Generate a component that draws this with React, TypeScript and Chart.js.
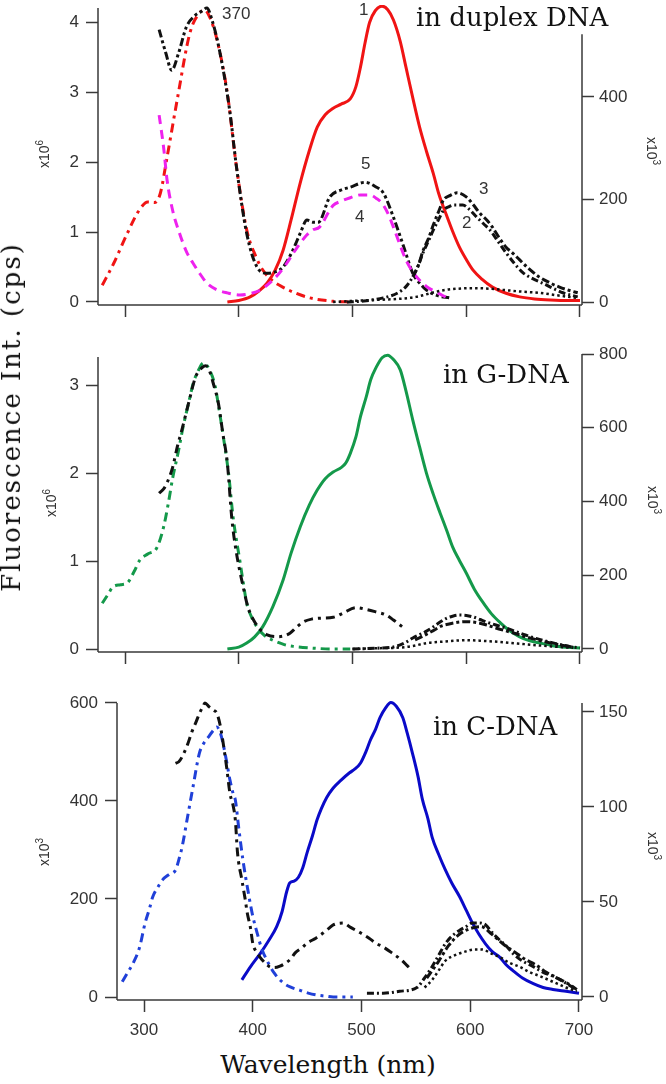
import React, { useEffect, useRef } from "react";
import { Chart, registerables } from "chart.js";

Chart.register(...registerables);

// ---------------- DATA ----------------
// tick values
const xTicks = [300, 400, 500, 600, 700];
const dupLeftTicks = [0, 1, 2, 3, 4];
const dupRightTicks = [0, 200, 400];
const gLeftTicks = [0, 1, 2, 3];
const gRightTicks = [0, 200, 400, 600, 800];
const cLeftTicks = [0, 200, 400, 600];
const cRightTicks = [0, 50, 100, 150];

// Panel 1: in duplex DNA
const dupRedExWl = [280, 290, 302, 312, 320, 326, 331, 337, 346, 357, 365, 370, 375, 381, 390, 398, 407, 415, 421, 430, 439, 460, 483, 500];
const dupRedExVal = [0.24, 0.55, 0.98, 1.3, 1.43, 1.42, 1.55, 2.07, 2.9, 3.84, 4.12, 4.17, 4.05, 3.74, 2.98, 1.93, 1.03, 0.65, 0.46, 0.3, 0.21, 0.07, 0.01, 0.0];

const dupBlack5Wl = [330, 336, 341, 347, 354, 362, 367, 372, 377, 383, 392, 398, 407, 416, 425, 432, 439, 447, 454, 460, 465, 470, 480, 490, 498, 511, 520, 527, 536, 545, 553, 560, 565, 575, 585];
const dupBlack5Val = [3.89, 3.55, 3.31, 3.55, 3.93, 4.1, 4.15, 4.2, 4.0, 3.6, 2.74, 1.93, 0.98, 0.5, 0.41, 0.43, 0.5, 0.72, 0.98, 1.17, 1.14, 1.14, 1.5, 1.6, 1.64, 1.71, 1.65, 1.56, 1.21, 0.79, 0.41, 0.25, 0.17, 0.09, 0.06];

const dupMag4Wl = [330, 334, 337, 342, 348, 354, 360, 366, 372, 380, 390, 401, 410, 419, 427, 435, 442, 448, 454, 460, 465, 471, 480, 483, 490, 498, 507, 515, 521, 526, 531, 536, 541, 547, 553, 559, 567, 575, 582];
const dupMag4Val = [2.67, 2.2, 1.74, 1.3, 0.98, 0.72, 0.55, 0.4, 0.27, 0.18, 0.13, 0.1, 0.12, 0.17, 0.27, 0.4, 0.55, 0.7, 0.84, 0.96, 1.03, 1.07, 1.31, 1.38, 1.44, 1.49, 1.53, 1.53, 1.48, 1.41, 1.27, 1.07, 0.85, 0.6, 0.43, 0.31, 0.2, 0.13, 0.07];

const dupRed1Wl = [390, 400, 410, 418, 425, 432, 439, 446, 454, 462, 469, 476, 483, 490, 498, 503, 507, 511, 515, 520, 526, 531, 536, 542, 547, 553, 559, 565, 571, 576, 582, 588, 594, 600, 606, 614, 623, 635, 647, 660, 674, 690, 700];
const dupRed1Val = [0, 3, 10, 22, 37, 62, 101, 160, 232, 295, 341, 365, 378, 386, 396, 420, 458, 505, 545, 568, 577, 570, 550, 508, 458, 398, 341, 294, 251, 210, 173, 138, 107, 83, 62, 44, 29, 17, 10, 6, 4, 3, 3];

const dupBlack2Wl = [495, 510, 527, 540, 547, 553, 558, 562, 567, 571, 576, 580, 585, 589, 597, 603, 609, 615, 621, 628, 635, 642, 650, 658, 667, 676, 685, 698];
const dupBlack2Val = [0, 2, 8, 18, 30, 49, 72, 96, 120, 140, 162, 179, 186, 189, 189, 180, 166, 153, 140, 118, 96, 76, 57, 46, 37, 27, 18, 10];

const dupBlack3Wl = [553, 558, 562, 567, 571, 576, 580, 586, 592, 600, 606, 612, 618, 623, 629, 635, 641, 647, 655, 664, 673, 682, 690, 698];
const dupBlack3Val = [49, 72, 100, 125, 150, 178, 199, 208, 213, 205, 190, 173, 160, 146, 125, 107, 95, 82, 65, 49, 38, 29, 23, 18];

const dupDotWl = [483, 500, 520, 540, 556, 570, 580, 593, 606, 620, 635, 650, 664, 680, 697];
const dupDotVal = [0, 2, 4, 6, 10, 18, 23, 26, 27, 26, 23, 20, 18, 13, 8];

// Panel 2: in G-DNA
const gGreenExWl = [280, 285, 289, 296, 302, 308, 313, 320, 328, 334, 338, 342, 347, 351, 356, 360, 365, 369, 374, 379, 383, 386, 391, 395, 401, 404, 407, 411, 416, 423, 430, 440, 448, 465, 483, 498];
const gGreenExVal = [0.52, 0.62, 0.7, 0.73, 0.75, 0.88, 1.01, 1.08, 1.15, 1.39, 1.65, 1.95, 2.25, 2.52, 2.8, 3.02, 3.18, 3.25, 3.18, 3.0, 2.7, 2.45, 2.0, 1.5, 1.0, 0.75, 0.52, 0.37, 0.25, 0.15, 0.1, 0.05, 0.03, 0.01, 0.0, 0.0];

const gBlackExWl = [330, 334, 337, 342, 346, 350, 356, 362, 368, 371, 374, 378, 382, 386, 390, 394, 398, 404, 408, 413, 419, 425, 434, 440, 445, 451, 457, 464, 471, 483, 492, 503, 512, 521, 529, 536, 542, 545];
const gBlackExVal = [1.77, 1.82, 1.89, 2.07, 2.3, 2.49, 2.8, 3.09, 3.2, 3.22, 3.17, 3.0, 2.8, 2.45, 2.11, 1.47, 1.09, 0.7, 0.48, 0.33, 0.22, 0.16, 0.14, 0.15, 0.18, 0.25, 0.31, 0.34, 0.35, 0.36, 0.41, 0.47, 0.45, 0.42, 0.39, 0.33, 0.27, 0.24];

const gGreenEmWl = [390, 400, 407, 414, 421, 430, 439, 446, 454, 462, 469, 476, 483, 490, 494, 498, 503, 507, 512, 516, 521, 526, 531, 536, 542, 547, 553, 559, 565, 571, 577, 583, 588, 594, 600, 607, 615, 622, 630, 638, 647, 656, 665, 676, 688, 700];
const gGreenEmVal = [0, 5, 16, 33, 60, 115, 187, 260, 331, 390, 431, 462, 480, 492, 504, 530, 575, 630, 683, 730, 765, 790, 797, 785, 757, 700, 621, 548, 477, 420, 369, 320, 277, 240, 206, 163, 125, 96, 71, 50, 33, 22, 16, 9, 5, 3];

const gBlackDashWl = [500, 520, 535, 542, 548, 553, 558, 562, 567, 571, 577, 583, 588, 594, 600, 606, 612, 618, 626, 635, 643, 652, 662, 673, 684, 694, 700];
const gBlackDashVal = [0, 2, 5, 11, 20, 30, 38, 43, 52, 60, 73, 84, 89, 92, 91, 87, 80, 73, 65, 57, 48, 38, 28, 19, 11, 5, 3];

const gBlackDashDotWl = [555, 562, 571, 578, 585, 594, 600, 606, 612, 618, 626, 635, 643, 652, 662, 673, 684, 694];
const gBlackDashDotVal = [25, 35, 50, 62, 68, 73, 74, 73, 70, 65, 57, 49, 42, 33, 25, 17, 10, 5];

const gDotWl = [500, 520, 542, 553, 565, 580, 600, 615, 630, 645, 659, 675, 694];
const gDotVal = [0, 2, 4, 8, 16, 20, 24, 22, 19, 15, 11, 7, 3];

// Panel 3: in C-DNA
const cBlueExWl = [280, 285, 290, 296, 301, 305, 308, 313, 317, 323, 329, 332, 335, 340, 345, 351, 355, 359, 363, 367, 370, 372, 376, 379, 382, 384, 387, 391, 396, 400, 404, 408, 413, 420, 428, 435, 443, 451, 459, 466, 474, 492];
const cBlueExVal = [31, 50, 69, 102, 151, 180, 204, 225, 239, 250, 259, 280, 306, 367, 428, 498, 518, 530, 542, 551, 540, 524, 480, 443, 415, 402, 347, 279, 212, 165, 131, 100, 75, 48, 29, 20, 14, 8, 4, 2, 0, 0];

const cBlackExWl = [329, 332, 335, 340, 344, 348, 351, 354, 356, 360, 364, 367, 370, 372, 374, 376, 379, 382, 384, 386, 390, 393, 395, 398, 400, 404, 409, 413, 416, 420, 425, 430, 435, 439, 445, 450, 458, 465, 470, 474, 483, 490, 499, 507, 513, 520, 528, 537, 542, 546];
const cBlackExVal = [477, 480, 490, 515, 541, 562, 579, 592, 600, 592, 585, 579, 555, 530, 500, 469, 416, 390, 361, 294, 239, 200, 171, 140, 110, 90, 75, 66, 61, 60, 63, 69, 78, 90, 100, 110, 120, 131, 140, 147, 151, 142, 131, 120, 110, 102, 90, 75, 64, 55];

const cBlueEmWl = [390, 398, 407, 415, 422, 427, 431, 434, 438, 442, 446, 450, 455, 459, 463, 468, 474, 481, 489, 494, 499, 504, 508, 513, 517, 522, 527, 532, 538, 542, 547, 552, 556, 561, 565, 571, 577, 583, 590, 596, 602, 608, 614, 620, 627, 633, 639, 648, 658, 667, 676, 688, 700];
const cBlueEmVal = [9, 16, 23, 30, 37, 45, 55, 60, 61, 63, 68, 76, 85, 93, 99, 105, 110, 114, 118, 120, 123, 129, 135, 141, 147, 152, 155, 153, 147, 139, 128, 116, 104, 94, 84, 75, 67, 60, 53, 46, 39, 33, 28, 24, 21, 17, 14, 10, 7, 5, 4, 3, 2];

const cBlackDashWl = [505, 520, 535, 551, 558, 565, 571, 577, 583, 590, 596, 602, 608, 614, 620, 627, 633, 639, 648, 658, 667, 676, 686, 697];
const cBlackDashVal = [2, 2, 3, 5, 10, 16, 22, 28, 32, 35, 37, 39, 39, 38, 34, 30, 27, 23, 19, 16, 13, 11, 8, 4];

const cBlackDashDotWl = [560, 570, 580, 590, 600, 610, 620, 630, 640, 650, 660, 670, 680, 690, 698];
const cBlackDashDotVal = [10, 18, 27, 33, 36, 37, 33, 28, 24, 20, 17, 13, 10, 7, 4];

const cDotWl = [558, 565, 571, 577, 586, 596, 604, 611, 619, 627, 636, 645, 655, 664, 676, 688, 698];
const cDotVal = [5, 9, 14, 19, 22, 24, 25, 25, 23, 21, 18, 16, 13, 11, 8, 5, 3];

// ---------------- STYLE ----------------
const AXIS = "#3a3a3a";
const TICK_TEXT = "#333333";
const SANS = '"Liberation Sans", Arial, sans-serif';
const SERIF = '"DejaVu Serif", serif';

const RED = "#f01414";
const MAGENTA = "#ee22ee";
const BLACK = "#111111";
const GREEN = "#14994a";
const BLUE = "#0a0ac8";
const BLUE_EX = "#2040d8";

type DS = {
  wl: number[];
  val: number[];
  color: string;
  dash: number[];
  width: number;
  axis: "y" | "y2";
};

function makeDataset(d: DS) {
  return {
    data: d.wl.map((w, i) => ({ x: w, y: d.val[i] })),
    borderColor: d.color,
    borderDash: d.dash,
    borderWidth: d.width,
    pointRadius: 0,
    fill: false,
    cubicInterpolationMode: "monotone" as const,
    yAxisID: d.axis,
    borderCapStyle: "butt" as const,
  };
}

const DASHDOT = [9, 5, 3, 5];
const DASHDOTDOT = [8, 3, 3, 3, 3, 3];
const DASH = [9, 6];
const DOT = [2.5, 3];

type PanelSpec = {
  top: number;
  height: number;
  padTop: number;
  xMin: number;
  xMax: number;
  xScaleH: number;
  showX: boolean;
  leftW: number;
  rightW: number;
  yMin: number;
  yMax: number;
  yTicks: number[];
  y2Min: number;
  y2Max: number;
  y2Ticks: number[];
  leftTop: number;
  rightTop: number;
  sets: DS[];
};

const panels: PanelSpec[] = [
  {
    top: 0, height: 320, padTop: 5,
    xMin: 276.26, xMax: 701.76, xScaleH: 15, showX: false,
    leftW: 98, rightW: 84,
    yMin: -0.0429, yMax: 4.243, yTicks: dupLeftTicks,
    y2Min: -5.85, y2Max: 579.2, y2Ticks: dupRightTicks,
    leftTop: 4.2, rightTop: 522,
    sets: [
      { wl: dupDotWl, val: dupDotVal, color: BLACK, dash: DOT, width: 2.5, axis: "y2" },
      { wl: dupBlack2Wl, val: dupBlack2Val, color: BLACK, dash: [7, 3, 2, 3], width: 3, axis: "y2" },
      { wl: dupBlack3Wl, val: dupBlack3Val, color: BLACK, dash: [8, 3, 3, 3], width: 3, axis: "y2" },
      { wl: dupMag4Wl, val: dupMag4Val, color: MAGENTA, dash: DASH, width: 3, axis: "y" },
      { wl: dupBlack5Wl, val: dupBlack5Val, color: BLACK, dash: DASHDOTDOT, width: 3, axis: "y" },
      { wl: dupRedExWl, val: dupRedExVal, color: RED, dash: DASHDOT, width: 3, axis: "y" },
      { wl: dupRed1Wl, val: dupRed1Val, color: RED, dash: [], width: 3, axis: "y2" },
    ],
  },
  {
    top: 330, height: 340, padTop: 20,
    xMin: 276.26, xMax: 701.76, xScaleH: 18, showX: false,
    leftW: 98, rightW: 84,
    yMin: -0.034, yMax: 3.398, yTicks: gLeftTicks,
    y2Min: -8.14, y2Max: 810.9, y2Ticks: gRightTicks,
    leftTop: 3.318, rightTop: 800,
    sets: [
      { wl: gDotWl, val: gDotVal, color: BLACK, dash: DOT, width: 2.5, axis: "y2" },
      { wl: gBlackDashWl, val: gBlackDashVal, color: BLACK, dash: [7, 3, 2, 3], width: 3, axis: "y2" },
      { wl: gBlackDashDotWl, val: gBlackDashDotVal, color: BLACK, dash: [8, 3, 3, 3], width: 3, axis: "y2" },
      { wl: gBlackExWl, val: gBlackExVal, color: BLACK, dash: [9, 5, 3, 5], width: 3, axis: "y" },
      { wl: gGreenExWl, val: gGreenExVal, color: GREEN, dash: DASHDOT, width: 3, axis: "y" },
      { wl: gGreenEmWl, val: gGreenEmVal, color: GREEN, dash: [], width: 3, axis: "y2" },
    ],
  },
  {
    top: 680, height: 365, padTop: 20,
    xMin: 275.17, xMax: 702.76, xScaleH: 45, showX: true,
    leftW: 117, rightW: 84,
    yMin: -6.12, yMax: 606.1, yTicks: cLeftTicks,
    y2Min: -1.58, y2Max: 156.3, y2Ticks: cRightTicks,
    leftTop: 600, rightTop: 154.7,
    sets: [
      { wl: cDotWl, val: cDotVal, color: BLACK, dash: DOT, width: 2.5, axis: "y2" },
      { wl: cBlackDashWl, val: cBlackDashVal, color: BLACK, dash: [7, 3, 2, 3], width: 3, axis: "y2" },
      { wl: cBlackDashDotWl, val: cBlackDashDotVal, color: BLACK, dash: [8, 3, 3, 3], width: 3, axis: "y2" },
      { wl: cBlackExWl, val: cBlackExVal, color: BLACK, dash: [9, 5, 3, 5], width: 3, axis: "y" },
      { wl: cBlueExWl, val: cBlueExVal, color: BLUE_EX, dash: DASHDOT, width: 3, axis: "y" },
      { wl: cBlueEmWl, val: cBlueEmVal, color: BLUE, dash: [], width: 3, axis: "y2" },
    ],
  },
];

const axisLinesPlugin = {
  id: "axisLines",
  afterDatasetsDraw(chart: any, _args: any, opts: any) {
    const { ctx, chartArea } = chart;
    const yL = chart.scales.y;
    const yR = chart.scales.y2;
    ctx.save();
    ctx.strokeStyle = AXIS;
    ctx.lineWidth = 1.5;
    ctx.beginPath();
    ctx.moveTo(chartArea.left, chartArea.bottom);
    ctx.lineTo(chartArea.right, chartArea.bottom);
    ctx.moveTo(chartArea.left, chartArea.bottom);
    ctx.lineTo(chartArea.left, yL.getPixelForValue(opts.leftTop));
    ctx.moveTo(chartArea.right, chartArea.bottom);
    ctx.lineTo(chartArea.right, yR.getPixelForValue(opts.rightTop));
    ctx.stroke();
    ctx.restore();
  },
};

function zeroPad(s: any) {
  s.paddingTop = 0;
  s.paddingBottom = 0;
  s.paddingLeft = 0;
  s.paddingRight = 0;
}

function gridOpts() {
  return {
    display: true,
    drawOnChartArea: false,
    drawTicks: true,
    tickLength: 12,
    tickColor: AXIS,
    tickWidth: 1.5,
  };
}

function fixedTicks(values: number[]) {
  return (s: any) => {
    s.ticks = values.map((v) => ({ value: v }));
  };
}

function buildConfig(p: PanelSpec): any {
  return {
    type: "line",
    data: { datasets: p.sets.map(makeDataset) },
    plugins: [axisLinesPlugin],
    options: {
      responsive: false,
      animation: false,
      events: [],
      layout: { padding: { top: p.padTop, left: 0, right: 0, bottom: 0 } },
      plugins: {
        legend: { display: false },
        tooltip: { enabled: false },
        axisLines: { leftTop: p.leftTop, rightTop: p.rightTop },
      },
      scales: {
        x: {
          type: "linear",
          position: "bottom",
          min: p.xMin,
          max: p.xMax,
          border: { display: false },
          grid: gridOpts(),
          afterBuildTicks: fixedTicks(xTicks),
          ticks: {
            display: p.showX,
            padding: 8,
            color: TICK_TEXT,
            font: { family: SANS, size: 17 },
            maxRotation: 0,
            autoSkip: false,
            callback: (v: number) => String(Math.round(v)),
          },
          afterFit: (s: any) => {
            s.height = p.xScaleH;
            zeroPad(s);
          },
        },
        y: {
          type: "linear",
          position: "left",
          min: p.yMin,
          max: p.yMax,
          border: { display: false },
          grid: gridOpts(),
          afterBuildTicks: fixedTicks(p.yTicks),
          ticks: {
            padding: 7,
            color: TICK_TEXT,
            font: { family: SANS, size: 17 },
            autoSkip: false,
            callback: (v: number) => String(Math.round(v)),
          },
          afterFit: (s: any) => {
            s.width = p.leftW;
            zeroPad(s);
          },
        },
        y2: {
          type: "linear",
          position: "right",
          min: p.y2Min,
          max: p.y2Max,
          border: { display: false },
          grid: gridOpts(),
          afterBuildTicks: fixedTicks(p.y2Ticks),
          ticks: {
            padding: 5,
            color: TICK_TEXT,
            font: { family: SANS, size: 17 },
            autoSkip: false,
            callback: (v: number) => String(Math.round(v)),
          },
          afterFit: (s: any) => {
            s.width = p.rightW;
            zeroPad(s);
          },
        },
      },
    },
  };
}

function Panel({ spec }: { spec: PanelSpec }) {
  const ref = useRef<HTMLCanvasElement>(null);
  useEffect(() => {
    const c = ref.current;
    if (!c) return;
    const chart = new Chart(c, buildConfig(spec));
    return () => chart.destroy();
  }, [spec]);
  return (
    <canvas
      ref={ref}
      width={666}
      height={spec.height}
      style={{ position: "absolute", left: 0, top: spec.top, width: 666, height: spec.height, display: "block" }}
    />
  );
}

function Txt({ x, y, children, style }: any) {
  return (
    <div style={{ position: "absolute", left: x, top: y, lineHeight: 1, whiteSpace: "nowrap", ...style }}>
      {children}
    </div>
  );
}

function Rot({ cx, cy, deg, children, style }: any) {
  return (
    <div
      style={{
        position: "absolute",
        left: cx,
        top: cy,
        lineHeight: 1,
        whiteSpace: "nowrap",
        transform: `translate(-50%, -50%) rotate(${deg}deg)`,
        ...style,
      }}
    >
      {children}
    </div>
  );
}

const expStyle = { fontFamily: SANS, fontSize: 14, color: TICK_TEXT };
const supStyle = { fontSize: 10, verticalAlign: "6px" };
const numStyle = { fontFamily: SANS, fontSize: 17, color: TICK_TEXT };
const serifStyle = { fontFamily: SERIF, fontSize: 26, color: "#111" };

export default function App() {
  return (
    <div style={{ position: "absolute", left: 0, top: 0, width: 666, height: 1084, background: "#fff", overflow: "hidden" }}>
      {panels.map((p, i) => (
        <Panel key={i} spec={p} />
      ))}

      {/* panel titles */}
      <Txt x={416} y={4} style={serifStyle}>in duplex DNA</Txt>
      <Txt x={443} y={361} style={serifStyle}>in G-DNA</Txt>
      <Txt x={433} y={713} style={serifStyle}>in C-DNA</Txt>

      {/* curve labels */}
      <Txt x={222} y={5} style={numStyle}>370</Txt>
      <Txt x={359} y={1} style={numStyle}>1</Txt>
      <Txt x={361} y={155} style={numStyle}>5</Txt>
      <Txt x={355} y={208} style={numStyle}>4</Txt>
      <Txt x={479} y={180} style={numStyle}>3</Txt>
      <Txt x={462} y={214} style={numStyle}>2</Txt>

      {/* exponent labels */}
      <Rot cx={43} cy={154} deg={-90} style={expStyle}>x10<span style={supStyle}>6</span></Rot>
      <Rot cx={50} cy={503} deg={-90} style={expStyle}>x10<span style={supStyle}>6</span></Rot>
      <Rot cx={43} cy={852} deg={-90} style={expStyle}>x10<span style={supStyle}>3</span></Rot>
      <Rot cx={653} cy={151} deg={90} style={expStyle}>x10<span style={supStyle}>3</span></Rot>
      <Rot cx={654} cy={500} deg={90} style={expStyle}>x10<span style={supStyle}>3</span></Rot>
      <Rot cx={654} cy={846} deg={90} style={expStyle}>x10<span style={supStyle}>3</span></Rot>

      {/* axis titles */}
      <Rot cx={11} cy={417} deg={-90} style={{ ...serifStyle, letterSpacing: 2 }}>Fluorescence Int. (cps)</Rot>
      <Rot cx={328} cy={1064} deg={0} style={{ ...serifStyle, fontSize: 25 }}>Wavelength (nm)</Rot>
    </div>
  );
}
